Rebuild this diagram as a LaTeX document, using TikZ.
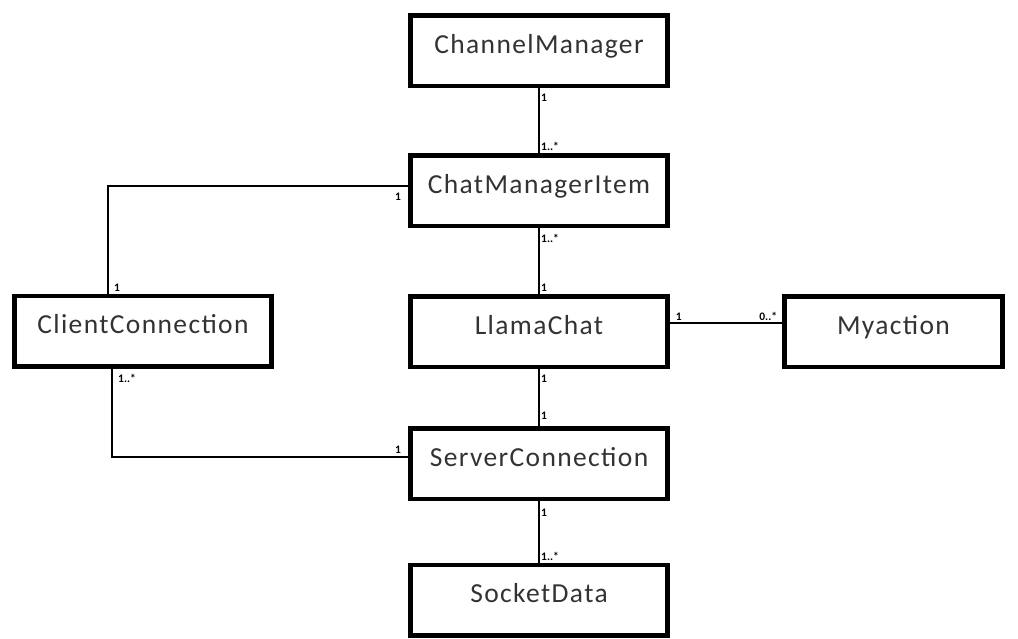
\documentclass[tikz,border=0pt]{standalone}
\usepackage{fontspec}
\setmainfont{Carlito}
\newfontfamily\boxfont{Carlito}[LetterSpace=5]
\usetikzlibrary{positioning}
\begin{document}
\begin{tikzpicture}[x=1pt,y=-1pt,
  box/.style={draw,line width=4.5pt,minimum width=257pt,minimum height=70.5pt,inner sep=0pt,
    text height=20pt,text depth=15pt,text=black!80,font=\boxfont\fontsize{27.5}{30}\selectfont},
  mult/.style={inner sep=1pt,font=\fontsize{11.5}{12}\selectfont\bfseries},
  link/.style={line width=1.8pt}]
\useasboundingbox (0,0) rectangle (1018,638);

\node[box] (cm) at (539,50.5) {ChannelManager};
\node[box] (cmi) at (539,190.5) {ChatManagerItem};
\node[box] (cc) at (143,331) {ClientConnection};
\node[box] (lc) at (539,331.5) {LlamaChat};
\node[box,minimum width=218pt] (ma) at (893.5,331.5) {Myaction};
\node[box] (sc) at (539,463.5) {ServerConnection};
\node[box] (sd) at (539,600) {SocketData};

\coordinate (ccTop) at ([xshift=-35pt]cc.north);
\coordinate (ccBot) at ([xshift=-31pt]cc.south);
\coordinate (cmiLeft) at ([yshift=4.5pt]cmi.west);
\coordinate (scLeft) at ([yshift=6.5pt]sc.west);
\coordinate (lcRight) at ([yshift=8.5pt]lc.east);
\coordinate (maLeft) at ([yshift=8.5pt]ma.west);

\draw[link] (cm) -- (cmi);
\draw[link] (cmi) -- (lc);
\draw[link] (lc) -- (sc);
\draw[link] (sc) -- (sd);
\draw[link] (lcRight) -- (maLeft);
\draw[link] (ccTop) |- (cmiLeft);
\draw[link] (ccBot) |- (scLeft);

% multiplicities
\node[mult,below right=5pt and 1pt of cm.south] {1};
\node[mult,above right=1pt and 1pt of cmi.north] {1..*};
\node[mult,below right=5pt and 1pt of cmi.south] {1..*};
\node[mult,above right=1pt and 1pt of lc.north] {1};
\node[mult,below left=6pt and 6pt of cmiLeft] {1};
\node[mult,above right=1pt and 5pt of ccTop] {1};
\node[mult,below right=5pt and 5pt of ccBot] {1..*};
\node[mult,above left=2pt and 6pt of scLeft] {1};
\node[mult,above right=1pt and 5pt of lcRight] {1};
\node[mult,above left=1pt and 4pt of maLeft] {0..*};
\node[mult,below right=5pt and 1pt of lc.south] {1};
\node[mult,above right=5pt and 1pt of sc.north] {1};
\node[mult,below right=7pt and 1pt of sc.south] {1};
\node[mult,above right=1pt and 1pt of sd.north] {1..*};

\end{tikzpicture}
\end{document}
